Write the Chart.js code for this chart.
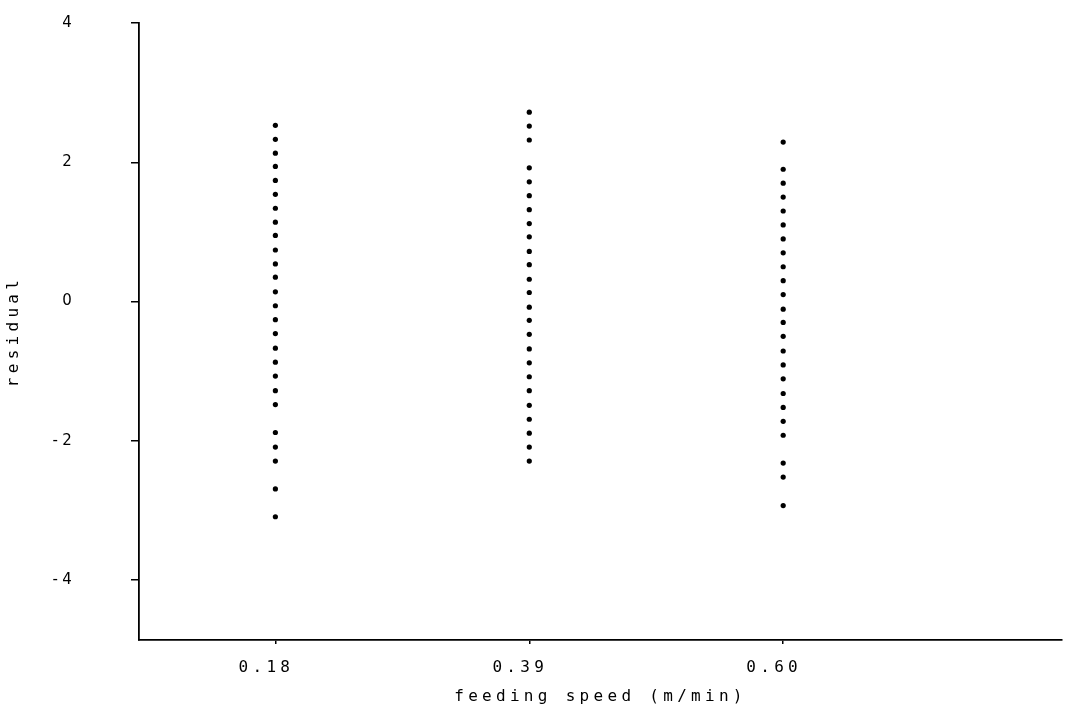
<!DOCTYPE html>
<html>
<head>
<meta charset="utf-8">
<script src="https://cdn.jsdelivr.net/npm/chart.js@4/dist/chart.umd.min.js"></script>
<style>
    html, body { margin: 0; padding: 0; background: #ffffff; }
    #wrap { width: 1066px; height: 706px; }
</style>
</head>
<body>
<div id="wrap"><canvas id="residualChart" width="1066" height="706"></canvas></div>
<script>
// Ma'lumotlar: tezlik darajalari va qoldiqlar
const speedLevels = [0.18, 0.39, 0.60];
const yTickValues = [-4, -2, 0, 2, 4];

const residuals018 = [
    2.53, 2.33, 2.13, 1.94, 1.74, 1.54, 1.34, 1.14, 0.95, 0.74, 0.54, 0.35, 0.14,
    -0.06, -0.26, -0.46, -0.67, -0.87, -1.07, -1.28, -1.48,
    -1.88, -2.09, -2.29, -2.69, -3.09
];
const residuals039 = [
    2.72, 2.52, 2.32, 1.92, 1.72, 1.52, 1.32, 1.12, 0.93, 0.72, 0.53, 0.32, 0.13,
    -0.08, -0.27, -0.47, -0.68, -0.88, -1.08, -1.28, -1.49, -1.69, -1.89, -2.09, -2.29
];
const residuals060 = [
    2.29, 1.90, 1.70, 1.50, 1.30, 1.10, 0.90, 0.70, 0.50, 0.30, 0.10,
    -0.11, -0.30, -0.50, -0.71, -0.91, -1.11, -1.32, -1.52, -1.72, -1.92,
    -2.32, -2.52, -2.93
];

const residualGroups = [residuals018, residuals039, residuals060];

// Eski printer uslubidagi harflar oralig'i
const letterSpacingPlugin = {
    id: 'letterSpacing',
    beforeDraw(chart) { chart.ctx.letterSpacing = '4.3px'; },
    afterDraw(chart) { chart.ctx.letterSpacing = '0px'; }
};

const datasets = residualGroups.map((group, i) => ({
    label: 'speed ' + speedLevels[i].toFixed(2),
    data: group.map(r => ({ x: speedLevels[i], y: r })),
    pointRadius: 2.6,
    pointBackgroundColor: '#000000',
    pointBorderWidth: 0,
    showLine: false
}));

const monoFont = { family: '"DejaVu Sans Mono", "Liberation Mono", monospace', size: 16 };

new Chart(document.getElementById('residualChart'), {
    type: 'scatter',
    data: { datasets: datasets },
    plugins: [letterSpacingPlugin],
    options: {
        responsive: false,
        animation: false,
        layout: { padding: { top: 23, right: 0, bottom: 0, left: 0 } },
        plugins: {
            legend: { display: false },
            tooltip: { enabled: false }
        },
        scales: {
            x: {
                type: 'linear',
                min: 0.0672,
                max: 0.8306,
                afterBuildTicks: scale => {
                    scale.ticks = speedLevels.map(v => ({ value: v }));
                },
                afterFit: scale => {
                    scale.height = 66;
                    scale.paddingLeft = 0;
                    scale.paddingRight = 0;
                },
                border: { display: true, color: '#000000', width: 1.8 },
                grid: { drawOnChartArea: false, drawTicks: true, tickLength: 4, color: '#000000', lineWidth: 1.5 },
                ticks: {
                    color: '#000000',
                    font: monoFont,
                    padding: 14,
                    labelOffset: -9,
                    maxRotation: 0,
                    callback: v => Number(v).toFixed(2)
                },
                title: {
                    display: true,
                    text: 'feeding speed (m/min)',
                    color: '#000000',
                    font: monoFont,
                    padding: { top: 5, bottom: 0 }
                }
            },
            y: {
                min: -4.86,
                max: 4,
                afterBuildTicks: scale => {
                    scale.ticks = yTickValues.map(v => ({ value: v }));
                },
                afterFit: scale => {
                    // tick padding chart maydonini qisqartirmasin
                    scale.width = 139;
                    scale.paddingTop = 0;
                    scale.paddingBottom = 0;
                },
                border: { display: true, color: '#000000', width: 1.8 },
                grid: { drawOnChartArea: false, drawTicks: true, tickLength: 8, color: '#000000', lineWidth: 1.5 },
                ticks: {
                    color: '#000000',
                    font: { family: '"DejaVu Sans", sans-serif', size: 15 },
                    padding: 55,
                    callback: v => String(v)
                },
                title: {
                    display: true,
                    text: 'residual',
                    color: '#000000',
                    font: monoFont,
                    padding: { top: 4, bottom: 0 }
                }
            }
        }
    }
});
</script>
</body>
</html>
